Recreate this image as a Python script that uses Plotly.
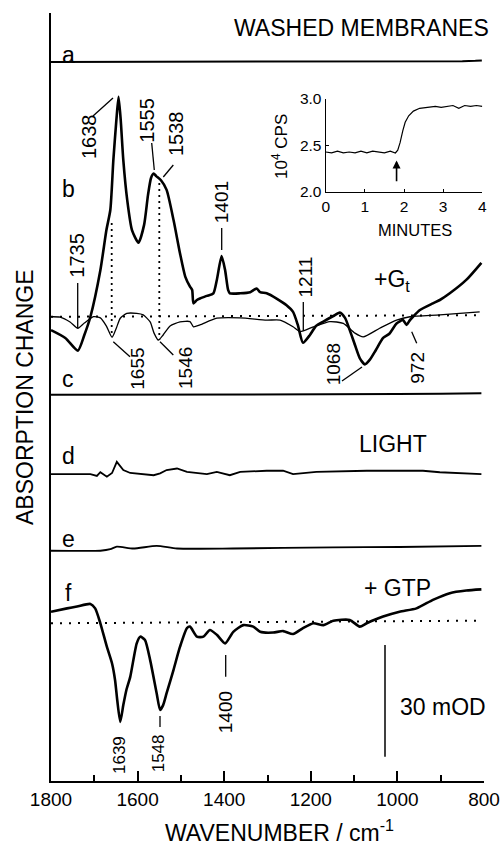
import numpy as np
import plotly.graph_objects as go

# ---------------- data (wavenumber in cm-1, absorbance change in mOD relative to each trace's baseline)
a_wn = [1800, 1700, 1600, 1500, 1400, 1300, 1200, 1100, 1000, 900, 850, 820, 805]
a_val = [0, 0, 0.1, 0, 0, 0.1, 0, 0.1, 0.1, 0.2, 0.2, 0.3, 0.4]

b_wn = [1800, 1767, 1738, 1723, 1709, 1686, 1672, 1663, 1656, 1649, 1644, 1639, 1633, 1624, 1613,
        1598, 1585, 1576, 1569, 1563, 1557, 1546, 1533, 1517, 1502, 1490, 1479, 1474, 1471, 1463,
        1456, 1440, 1425, 1417, 1406, 1398, 1391, 1387, 1363, 1340, 1325, 1317, 1302, 1279, 1256,
        1241, 1230, 1218, 1202, 1188, 1171, 1148, 1133, 1121, 1110, 1098, 1087, 1075, 1064, 1050,
        1033, 1018, 1002, 987, 979, 971, 964, 948, 918, 902, 879, 841, 806]
b_val = [-3.6, -5.7, -9.1, -4.9, 0, 12.5, 23.3, 28.7, 42.1, 52.9, 59.1, 52.9, 42.1, 31.4, 23.3,
         19.9, 24.7, 32.7, 37.3, 38.5, 37.8, 36.7, 34.1, 26.0, 17.0, 10.8, 8.1, 7.2, 3.6, 4.5,
         4.9, 5.6, 6.3, 9.9, 16.3, 12.6, 7.2, 6.3, 6.3, 6.6, 7.6, 6.6, 6.3, 4.9, 3.1,
         1.3, -2.2, -7.0, -4.9, -2.5, -1.3, 0.2, 1.1, -0.3, -3.6, -7.6, -11.1, -12.8, -11.6, -9.0,
         -5.7, -4.5, -1.8, -0.9, -2.2, -0.9, 0, 1.8, 3.6, 4.5, 6.3, 9.9, 14.5]

g_wn = [1800, 1779, 1756, 1738, 1723, 1702, 1686, 1672, 1659, 1649, 1640, 1625, 1602, 1587, 1571,
        1562, 1552, 1541, 1525, 1502, 1479, 1471, 1456, 1417, 1363, 1302, 1271, 1241, 1225, 1194,
        1156, 1125, 1098, 1079, 1041, 1002, 971, 902, 810]
g_val = [0, -0.1, -1.4, -3.1, -1.7, 0, -0.3, -2.5, -5.5, -3.0, -0.4, 0.9, 0.9, 0.5, -1.4,
         -4.4, -6.3, -4.9, -2.5, -1.4, -1.3, -2.7, -2.2, -0.4, -0.3, -0.9, -0.9, -2.7, -4.0, -2.7,
         -1.3, -1.8, -4.4, -5.4, -3.1, -0.9, 0, 0.5, 1.3]

c_wn = [1800, 1600, 1400, 1200, 1000, 900, 806]
c_val = [0, 0, 0.1, 0.1, 0.2, 0.3, 0.45]

d_wn = [1800, 1709, 1694, 1686, 1671, 1659, 1648, 1640, 1633, 1617, 1594, 1563, 1548, 1533, 1509,
        1486, 1440, 1417, 1387, 1363, 1302, 1264, 1241, 1187, 1071, 995, 941, 902, 806]
d_val = [0, 0, -0.5, 0.5, -0.7, 0.3, 3.3, 2.2, 1.1, 0.3, 0, -0.3, 0.2, 1.1, 1.5,
         0.6, 0, 0.6, -0.3, 0.6, 0.9, 0.9, 0, 0.6, 0.9, 0.9, 0.9, 0.5, 0]

e_wn = [1800, 1686, 1663, 1648, 1610, 1556, 1509, 1380, 1149, 995, 806]
e_val = [0, 0, 0.4, 1.1, 0.6, 1.3, 0.6, 0.6, 0.9, 1.0, 1.3]

f_wn = [1800, 1763, 1740, 1709, 1698, 1686, 1671, 1659, 1652, 1647, 1640, 1633, 1626, 1617, 1602,
        1594, 1583, 1571, 1556, 1548, 1541, 1533, 1517, 1502, 1486, 1479, 1463, 1448, 1433, 1417,
        1398, 1379, 1356, 1333, 1317, 1287, 1264, 1241, 1218, 1194, 1171, 1148, 1110, 1087, 1071,
        1033, 995, 956, 918, 879, 841, 806]
f_val = [3.1, 4.0, 4.5, 5.2, 4.0, 0, -6.3, -10.8, -15.3, -20.7, -26.5, -22.0, -18.0, -14.4, -5.4,
         -3.6, -4.5, -9.9, -18.8, -23.3, -22.0, -18.8, -12.5, -6.3, -1.3, -0.9, -3.6, -3.6, -1.8, -3.1,
         -5.4, -2.3, -0.5, -0.9, -2.3, -2.5, -2.1, -2.9, -1.3, 0, -0.5, 0.7, 0.9, -0.9, 0,
         1.8, 3.1, 4.0, 6.3, 8.1, 8.8, 9.1]

base_wn = [1800, 806]
b_base_val = [0, 0.4]
f_base_val = [0, 0.7]

# inset: counts (10^4 CPS) vs minutes
ins_t = [0, 0.15, 0.3, 0.45, 0.6, 0.75, 0.9, 1.05, 1.2, 1.35, 1.5, 1.65, 1.78, 1.84, 1.9, 1.97,
         2.03, 2.12, 2.24, 2.4, 2.6, 2.8, 2.95, 3.1, 3.25, 3.4, 3.55, 3.7, 3.85, 4.0]
ins_v = [2.43, 2.42, 2.44, 2.42, 2.43, 2.42, 2.44, 2.42, 2.44, 2.43, 2.42, 2.44, 2.42, 2.45, 2.53, 2.66,
         2.75, 2.82, 2.87, 2.90, 2.91, 2.92, 2.91, 2.92, 2.93, 2.90, 2.93, 2.92, 2.93, 2.92]

x_ticks = [1800, 1600, 1400, 1200, 1000, 800]
x_minor = [1700, 1500, 1300, 1100, 900]

offsets = {"a": 193.3, "b": 124.8, "c": 103.8, "d": 82.5, "e": 61.9, "f": 42.4}

# ---------------- layout geometry
W, H = 503, 845
L, R, T, B = 51, 19, 13, 64
PW, PH = W - L - R, H - T - B
YMAX = PH / 3.72
FONT = "Liberation Sans, Arial, sans-serif"


def px(x, y):
    return (x - L) / PW, (H - B - y) / PH


fig = go.Figure()


def add(wn, val, off, width, dash=None, shape="linear"):
    fig.add_trace(go.Scatter(x=wn, y=np.array(val) + off, mode="lines",
                             line=dict(color="black", width=width, dash=dash, shape=shape,
                                       smoothing=0.6 if shape == "spline" else None),
                             showlegend=False, hoverinfo="skip"))


add(a_wn, a_val, offsets["a"], 2.0)
add(base_wn, b_base_val, offsets["b"], 2.0, dash="2px,7px")
add(g_wn, g_val, offsets["b"], 1.3, shape="spline")
add(b_wn, b_val, offsets["b"], 2.6, shape="spline")
add(c_wn, c_val, offsets["c"], 2.0)
add(d_wn, d_val, offsets["d"], 1.8)
add(e_wn, e_val, offsets["e"], 1.8, shape="spline")
add(base_wn, f_base_val, offsets["f"], 2.0, dash="2px,7px")
add(f_wn, f_val, offsets["f"], 2.6, shape="spline")

fig.add_trace(go.Scatter(x=ins_t, y=ins_v, mode="lines", xaxis="x2", yaxis="y2",
                         line=dict(color="black", width=1.2), showlegend=False, hoverinfo="skip"))

annotations = []


def text(s, x, y, size, angle=0, xanchor="center"):
    xp, yp = px(x, y)
    annotations.append(dict(text=s, x=xp, y=yp, xref="paper", yref="paper", showarrow=False,
                            textangle=angle, xanchor=xanchor, yanchor="middle",
                            font=dict(family=FONT, size=size, color="black")))


text("WASHED MEMBRANES", 361.5, 28, 23)
for lab, yy in [("a", 55), ("b", 189), ("c", 379), ("d", 456), ("e", 539), ("f", 593)]:
    text(lab, 68.3, yy, 23)
text("LIGHT", 393.3, 444, 23)
text("+G<sub>t</sub>", 371.7, 280, 23, xanchor="left")
text("+ GTP", 361.7, 588.3, 23, xanchor="left")
text("30 mOD", 398.3, 706.7, 23, xanchor="left")
text("ABSORPTION CHANGE", 25, 397, 23, angle=-90)
text("WAVENUMBER / cm<sup>-1</sup>", 279, 831, 23)

for s, x, y, sz in [("1638", 88.3, 136.7, 20), ("1555", 146.7, 120, 20), ("1538", 176.7, 133.3, 20),
                    ("1735", 76.7, 255, 20), ("1401", 221.7, 202.5, 19), ("1211", 305, 277.5, 19),
                    ("1655", 136.7, 369, 19), ("1546", 185, 368, 19), ("1068", 333.3, 364, 19),
                    ("972", 416.7, 368, 19), ("1639", 119, 755, 17), ("1548", 158.3, 753, 17),
                    ("1400", 225.7, 712.5, 19)]:
    text(s, x, y, sz, angle=-90)

# inset texts
text("10<sup>4</sup> CPS", 280, 147, 17, angle=-90)
text("MINUTES", 415, 230, 16.5)

# inset arrow
annotations.append(dict(x=1.81, y=2.34, ax=1.81, ay=2.10, xref="x2", yref="y2", axref="x2", ayref="y2",
                        text="", showarrow=True, arrowhead=2, arrowsize=1, arrowwidth=1.6, arrowcolor="black"))

shapes = []


def seg(x0, y0, x1, y1, width=1.3, dash=None):
    a0, b0 = px(x0, y0)
    a1, b1 = px(x1, y1)
    shapes.append(dict(type="line", xref="paper", yref="paper", x0=a0, y0=b0, x1=a1, y1=b1,
                       line=dict(color="black", width=width, dash=dash)))


for s in [(93, 116, 113, 98), (151.7, 143, 154.3, 170), (173.3, 165, 163.3, 177),
          (77.7, 283, 77.7, 328), (221.7, 228, 221.7, 250), (303.3, 302, 303.3, 331),
          (113.3, 341.7, 130, 356.7), (160, 341.7, 173.3, 355), (342, 381, 362, 367),
          (411.7, 331.7, 416.7, 343.3), (160, 716, 160, 727), (225.7, 655, 225.7, 676.7)]:
    seg(*s)
seg(385, 645, 385, 756.7, width=1.5)
seg(111.7, 223, 111.7, 337, width=1.8, dash="2px,4px")
seg(159.3, 183, 159.3, 340, width=1.8, dash="2px,4px")

ix0, iy0 = px(325.7, 192)
ix1, iy1 = px(482.3, 99)

fig.update_layout(
    width=W, height=H, margin=dict(l=L, r=R, t=T, b=B, autoexpand=False),
    paper_bgcolor="white", plot_bgcolor="white",
    font=dict(family=FONT, color="black"),
    xaxis=dict(range=[1800, 800], showline=True, linecolor="black", linewidth=2, mirror=False,
               showgrid=False, zeroline=False, ticks="inside", ticklen=10, tickwidth=1.5,
               tickcolor="black", tickvals=x_ticks, ticktext=[str(v) for v in x_ticks],
               tickfont=dict(family=FONT, size=19, color="black"),
               minor=dict(tickvals=x_minor, ticks="inside", ticklen=6, tickwidth=1.5, tickcolor="black")),
    yaxis=dict(range=[0, YMAX], showline=True, linecolor="black", linewidth=2, showgrid=False,
               zeroline=False, showticklabels=False, ticks=""),
    xaxis2=dict(domain=[ix0, ix1], anchor="y2", range=[0, 4], showline=True, linecolor="black",
                linewidth=1.3, showgrid=False, zeroline=False, ticks="inside", ticklen=3,
                tickcolor="black", tickvals=[0, 1, 2, 3, 4],
                tickfont=dict(family=FONT, size=15.5, color="black")),
    yaxis2=dict(domain=[iy0, iy1], anchor="x2", range=[2.0, 3.0], showline=True, linecolor="black",
                linewidth=1.3, showgrid=False, zeroline=False, ticks="inside", ticklen=3,
                tickcolor="black", tickvals=[2.0, 2.5, 3.0], ticktext=["2.0", "2.5", "3.0"],
                tickfont=dict(family=FONT, size=15.5, color="black")),
    annotations=annotations, shapes=shapes,
)

fig.write_html("out.html", config={"displayModeBar": False},
               post_script="document.body.style.margin='0';document.body.style.overflow='hidden';")
